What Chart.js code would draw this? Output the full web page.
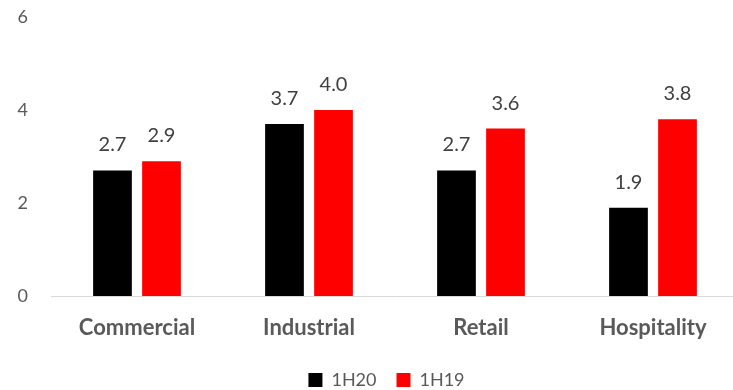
<!DOCTYPE html>
<html>
<head>
<meta charset="utf-8">
<script src="https://cdn.jsdelivr.net/npm/chart.js@4/dist/chart.umd.min.js"></script>
<style>
    html, body { margin: 0; padding: 0; background: #fff; overflow: hidden; }
    #wrap { width: 760px; height: 399px; }
</style>
</head>
<body>
<div id="wrap"><canvas id="chart"></canvas></div>
<script>
// Static data
const categories = ["Commercial", "Industrial", "Retail", "Hospitality"];
const values1H20 = [2.7, 3.7, 2.7, 1.9];
const values1H19 = [2.9, 4.0, 3.6, 3.8];
const yMax = 6;
const yStep = 2;

const fontFamily = "Lato, 'Open Sans', sans-serif";

// Value labels above each bar
const barLabels = {
    id: "barLabels",
    afterDatasetsDraw(chart) {
        const { ctx } = chart;
        ctx.save();
        ctx.font = `20px ${fontFamily}`;
        ctx.fillStyle = "#404040";
        ctx.textAlign = "center";
        ctx.textBaseline = "alphabetic";
        chart.data.datasets.forEach((ds, i) => {
            chart.getDatasetMeta(i).data.forEach((bar, j) => {
                ctx.fillText(ds.data[j].toFixed(1), bar.x, bar.y - 19);
            });
        });
        ctx.restore();
    },
};

// Nudge the legend a bit right so it sits like the original
const legendShift = {
    id: "legendShift",
    afterLayout(chart) {
        const legend = chart.legend;
        if (!legend) return;
        legend.left += 17;
        legend.right += 17;
    },
};

const ctx = document.getElementById("chart");

new Chart(ctx, {
    type: "bar",
    data: {
        labels: categories,
        datasets: [
            {
                label: "1H20",
                data: values1H20,
                backgroundColor: "#000000",
                categoryPercentage: 0.57,
                barPercentage: 0.79,
            },
            {
                label: "1H19",
                data: values1H19,
                backgroundColor: "#FF0000",
                categoryPercentage: 0.57,
                barPercentage: 0.79,
            },
        ],
    },
    options: {
        animation: false,
        responsive: true,
        maintainAspectRatio: false,
        layout: {
            padding: { left: 0, right: 21, top: 17, bottom: 0 },
        },
        scales: {
            y: {
                min: 0,
                max: yMax,
                afterFit: (scale) => {
                    scale.width = 51;
                    scale.paddingTop = 0;
                    scale.paddingBottom = 0;
                },
                grid: { display: false, drawTicks: false },
                border: { display: false },
                ticks: {
                    stepSize: yStep,
                    padding: 23,
                    color: "#595959",
                    font: { family: fontFamily, size: 18 },
                },
            },
            x: {
                afterFit: (scale) => {
                    scale.height = 55;
                },
                grid: { display: false, drawTicks: false },
                border: { display: true, color: "#D9D9D9", width: 1 },
                ticks: {
                    padding: 19,
                    color: "#595959",
                    font: { family: fontFamily, size: 22, weight: "bold" },
                },
            },
        },
        plugins: {
            legend: {
                position: "bottom",
                labels: {
                    boxWidth: 14,
                    boxHeight: 14,
                    padding: 20,
                    color: "#595959",
                    font: { family: fontFamily, size: 18 },
                },
            },
            tooltip: { enabled: false },
        },
    },
    plugins: [barLabels, legendShift],
});
</script>
</body>
</html>
